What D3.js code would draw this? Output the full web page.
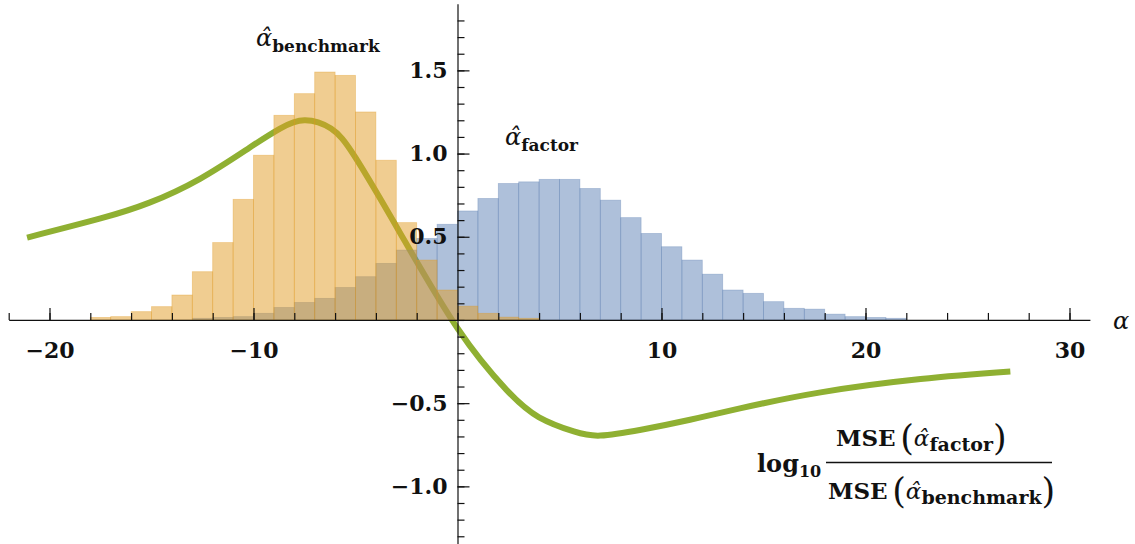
<!DOCTYPE html>
<html>
<head>
<meta charset="utf-8">
<script src="https://cdn.jsdelivr.net/npm/d3@7"></script>
<style>
  html, body { margin: 0; padding: 0; background: #fff; }
  svg { display: block; }
</style>
</head>
<body>
<div id="chart"></div>
<script>
// unit-wide histogram bins: left edge of each bin and its height
const benchmarkBins = [-18, -17, -16, -15, -14, -13, -12, -11, -10, -9, -8, -7, -6, -5, -4, -3, -2, -1, 0, 1, 2, 3];
const benchmarkHeights = [0.015, 0.02, 0.05, 0.08, 0.15, 0.29, 0.465, 0.725, 0.99, 1.23, 1.36, 1.49, 1.47, 1.25, 0.96, 0.585, 0.36, 0.18, 0.083, 0.04, 0.017, 0.01];

const factorBins = [-13, -12, -11, -10, -9, -8, -7, -6, -5, -4, -3, -2, -1, 0, 1, 2, 3, 4, 5, 6, 7, 8, 9, 10, 11, 12, 13, 14, 15, 16, 17, 18, 19, 20, 21];
const factorHeights = [0.01, 0.015, 0.02, 0.04, 0.075, 0.105, 0.13, 0.195, 0.26, 0.34, 0.42, 0.49, 0.575, 0.655, 0.73, 0.82, 0.83, 0.845, 0.845, 0.79, 0.72, 0.615, 0.52, 0.44, 0.36, 0.275, 0.18, 0.16, 0.11, 0.07, 0.065, 0.035, 0.02, 0.015, 0.01];

// log10 MSE(factor) / MSE(benchmark) as a function of alpha
const curveAlpha = [-21.1, -17.5, -15.1, -12.6, -10.2, -8.7, -7.5, -6.2, -5.0, -2.8, 0, 2.4, 4.0, 5.7, 7.0, 9.0, 11.4, 13.9, 17.8, 22.7, 27.1];
const curveRatio = [0.495, 0.61, 0.705, 0.85, 1.035, 1.15, 1.20, 1.15, 0.975, 0.52, -0.05, -0.42, -0.585, -0.67, -0.695, -0.66, -0.60, -0.53, -0.435, -0.355, -0.31];

const xMajorTicks = [-20, -10, 10, 20, 30];
const yMajorTicks = [-1.0, -0.5, 0.5, 1.0, 1.5];

const width = 1135, height = 544;
const colors = { factor: '#5e81b5', benchmark: '#e19c24', ratio: '#8fb032' };
const serif = 'DejaVu Serif';

const svg = d3.select('#chart').append('svg')
  .attr('width', width)
  .attr('height', height)
  .attr('viewBox', `0 0 ${width} ${height}`);

const x = d3.scaleLinear().domain([-22, 31]).range([8.7, 1089.9]);
const y = d3.scaleLinear().domain([-1.35, 1.9]).range([544.6, 3.8]);

// curve goes underneath the translucent histograms
const line = d3.line()
  .x(d => x(d[0]))
  .y(d => y(d[1]))
  .curve(d3.curveNatural);

svg.append('path')
  .datum(d3.zip(curveAlpha, curveRatio))
  .attr('fill', 'none')
  .attr('stroke', colors.ratio)
  .attr('stroke-width', 6)
  .attr('stroke-linecap', 'butt')
  .attr('d', line);

function drawHist(bins, heights, color) {
  svg.append('g')
    .selectAll('rect')
    .data(d3.zip(bins, heights))
    .join('rect')
    .attr('x', d => x(d[0]))
    .attr('width', d => x(d[0] + 1) - x(d[0]))
    .attr('y', d => y(d[1]))
    .attr('height', d => y(0) - y(d[1]))
    .attr('fill', color)
    .attr('fill-opacity', 0.5)
    .attr('stroke', color)
    .attr('stroke-opacity', 0.4)
    .attr('stroke-width', 0.8);
}

drawHist(factorBins, factorHeights, colors.factor);
drawHist(benchmarkBins, benchmarkHeights, colors.benchmark);

// axes
function styleAxis(g) {
  g.selectAll('path, line').attr('stroke', '#111').attr('stroke-width', 1.2);
  g.selectAll('text')
    .attr('font-family', serif)
    .attr('font-weight', 'bold')
    .attr('font-size', 22)
    .attr('fill', '#111');
}

svg.append('g')
  .attr('transform', `translate(0,${y(0)})`)
  .call(d3.axisBottom(x)
    .tickValues(d3.range(-22, 31, 2))
    .tickSizeInner(-7)
    .tickSizeOuter(0)
    .tickFormat(''))
  .call(styleAxis);

svg.append('g')
  .attr('transform', `translate(0,${y(0)})`)
  .call(d3.axisBottom(x)
    .tickValues(xMajorTicks)
    .tickSizeInner(-12)
    .tickSizeOuter(0)
    .tickPadding(22)
    .tickFormat(d3.format('d')))
  .call(g => g.select('.domain').remove())
  .call(styleAxis);

svg.append('g')
  .attr('transform', `translate(${x(0)},0)`)
  .call(d3.axisLeft(y)
    .tickValues(d3.range(-13, 19).map(v => v / 10))
    .tickSizeInner(-7)
    .tickSizeOuter(0)
    .tickFormat(''))
  .call(styleAxis);

svg.append('g')
  .attr('transform', `translate(${x(0)},0)`)
  .call(d3.axisLeft(y)
    .tickValues(yMajorTicks)
    .tickSizeInner(-12)
    .tickSizeOuter(0)
    .tickPadding(10)
    .tickFormat(d3.format('.1f')))
  .call(g => g.select('.domain').remove())
  .call(styleAxis);

// axis label
svg.append('text')
  .attr('x', 1113)
  .attr('y', 329)
  .attr('font-family', serif)
  .attr('font-style', 'italic')
  .attr('font-size', 24)
  .attr('fill', '#111')
  .text('α');

// series labels
function hatLabel(px, py, sub, size, subSize, subDy) {
  const t = svg.append('text')
    .attr('x', px)
    .attr('y', py)
    .attr('font-family', serif)
    .attr('fill', '#111');
  t.append('tspan').attr('font-style', 'italic').attr('font-size', size).text('α\u0302');
  t.append('tspan').attr('font-weight', 'bold').attr('font-size', subSize).attr('dy', subDy).text(sub);
  return t;
}

hatLabel(256, 46, 'benchmark', 24, 17, 6);
hatLabel(505, 145, 'factor', 24, 17, 6);

// ratio label: log10 MSE(factor) / MSE(benchmark)
const logLabel = svg.append('text')
  .attr('x', 757)
  .attr('y', 472)
  .attr('font-family', serif)
  .attr('font-weight', 'bold')
  .attr('fill', '#111');
logLabel.append('tspan').attr('font-size', 24).text('log');
logLabel.append('tspan').attr('font-size', 16).attr('dy', 5).text('10');

function mseTerm(px, py, sub) {
  const t = svg.append('text')
    .attr('x', px)
    .attr('y', py)
    .attr('font-family', serif)
    .attr('fill', '#111');
  t.append('tspan').attr('font-weight', 'bold').attr('font-size', 23).text('MSE\u2009');
  t.append('tspan').attr('font-size', 35).attr('font-weight', 'normal').attr('dy', 4).text('(');
  t.append('tspan').attr('font-style', 'italic').attr('font-size', 23).attr('dy', -4).text('α\u0302');
  t.append('tspan').attr('font-weight', 'bold').attr('font-size', 19).attr('dy', 5).text(sub);
  t.append('tspan').attr('font-size', 35).attr('font-weight', 'normal').attr('dy', -1).text(')');
}

mseTerm(836, 446, 'factor');
mseTerm(828, 499, 'benchmark');

svg.append('line')
  .attr('x1', 826)
  .attr('x2', 1052)
  .attr('y1', 462.5)
  .attr('y2', 462.5)
  .attr('stroke', '#111')
  .attr('stroke-width', 1.3);
</script>
</body>
</html>
